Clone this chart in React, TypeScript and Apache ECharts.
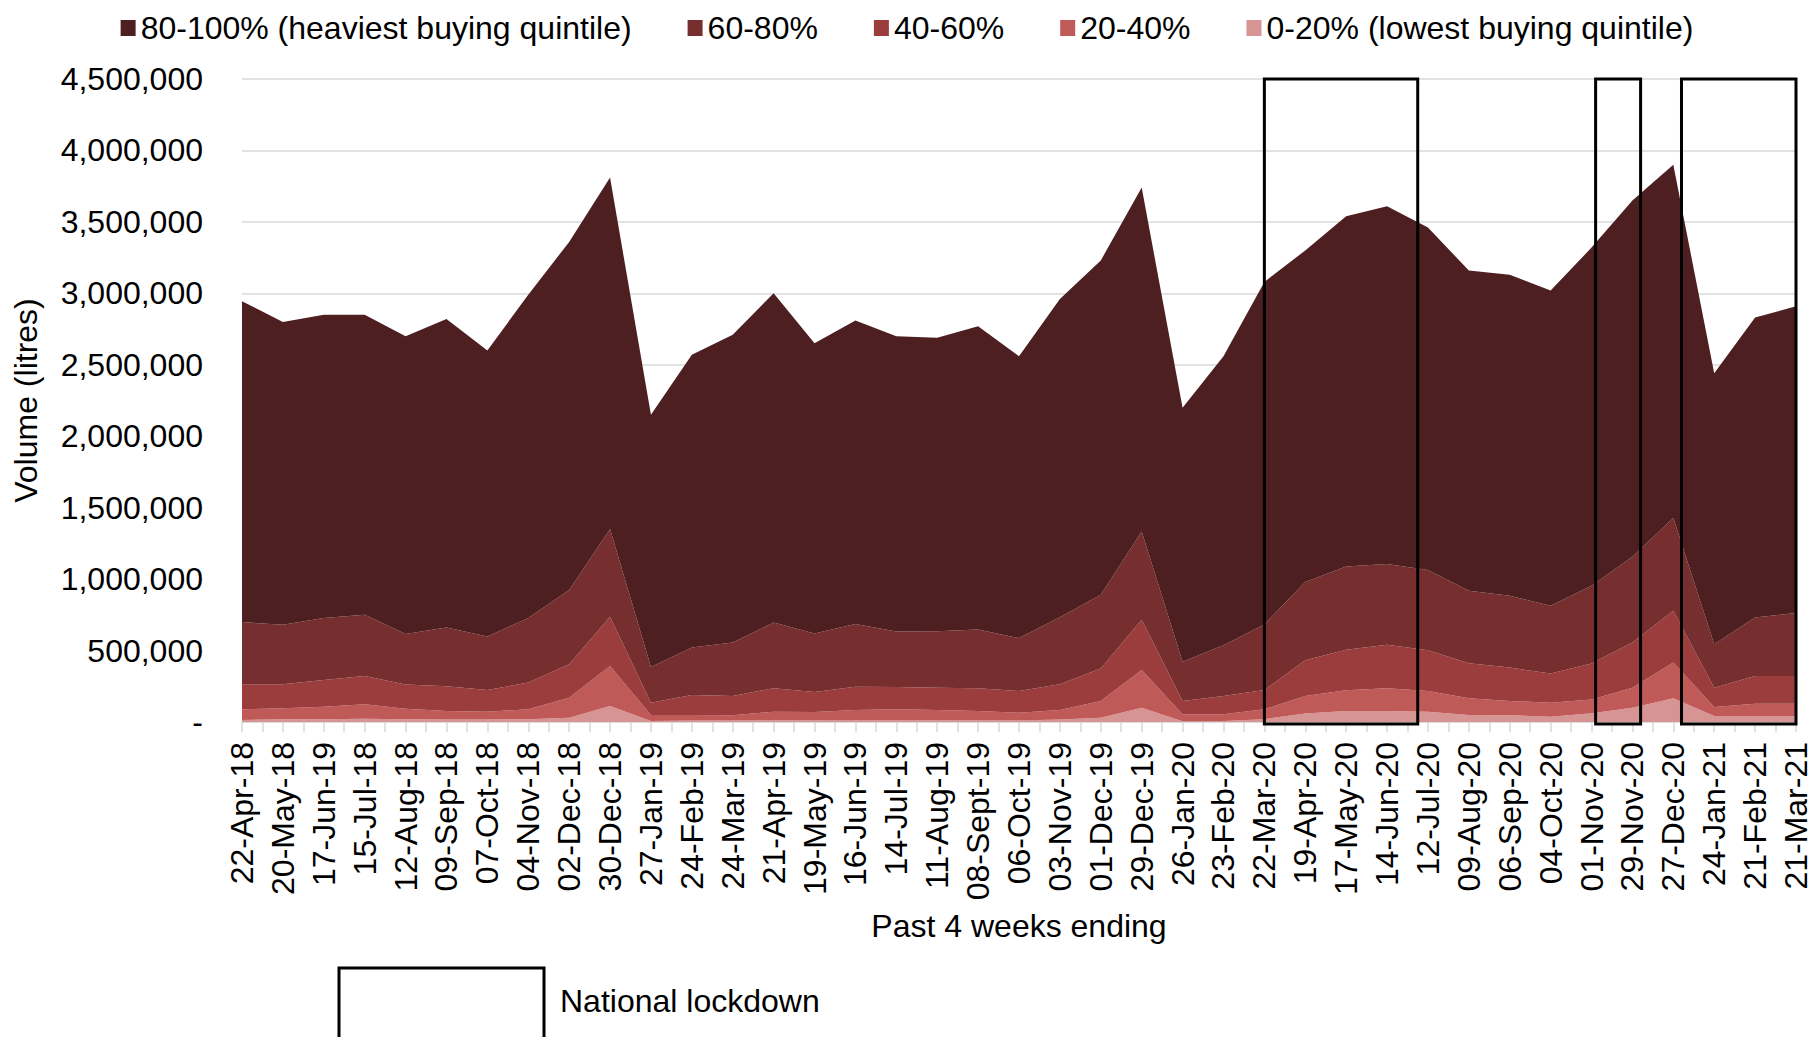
import React, { useEffect, useRef } from "react";
import * as echarts from "echarts";

const categories = [
  "22-Apr-18", "20-May-18", "17-Jun-19", "15-Jul-18", "12-Aug-18", "09-Sep-18", "07-Oct-18",
  "04-Nov-18", "02-Dec-18", "30-Dec-18", "27-Jan-19", "24-Feb-19", "24-Mar-19", "21-Apr-19",
  "19-May-19", "16-Jun-19", "14-Jul-19", "11-Aug-19", "08-Sept-19", "06-Oct-19", "03-Nov-19",
  "01-Dec-19", "29-Dec-19", "26-Jan-20", "23-Feb-20", "22-Mar-20", "19-Apr-20", "17-May-20",
  "14-Jun-20", "12-Jul-20", "09-Aug-20", "06-Sep-20", "04-Oct-20", "01-Nov-20", "29-Nov-20",
  "27-Dec-20", "24-Jan-21", "21-Feb-21", "21-Mar-21",
];

const q80to100 = [
  2246000, 2120000, 2123000, 2100000, 2085000, 2159000, 2002000, 2263000, 2437000, 2460000,
  1765000, 2049000, 2154000, 2304000, 2031000, 2125000, 2067000, 2055000, 2122000, 1973000,
  2227000, 2340000, 2406000, 1778000, 2023000, 2397000, 2320000, 2451000, 2505000, 2397000,
  2242000, 2247000, 2207000, 2367000, 2494000, 2473000, 1896000, 2099000, 2148000,
];
const q60to80 = [
  435000, 416000, 433000, 428000, 353000, 411000, 374000, 451000, 519000, 614000,
  250000, 332000, 374000, 460000, 409000, 438000, 388000, 395000, 412000, 370000,
  469000, 516000, 619000, 275000, 355000, 459000, 547000, 584000, 565000, 561000,
  507000, 502000, 474000, 544000, 600000, 649000, 304000, 409000, 440000,
];
const q40to60 = [
  175000, 168000, 187000, 198000, 169000, 173000, 152000, 187000, 234000, 344000,
  86000, 140000, 135000, 164000, 140000, 163000, 156000, 156000, 159000, 152000,
  180000, 227000, 351000, 93000, 128000, 135000, 251000, 283000, 304000, 285000,
  245000, 234000, 204000, 251000, 316000, 362000, 135000, 194000, 194000,
];
const q20to40 = [
  75000, 76000, 87000, 102000, 73000, 59000, 55000, 69000, 140000, 280000,
  42000, 39000, 37000, 60000, 58000, 70000, 75000, 71000, 65000, 55000,
  66000, 117000, 264000, 49000, 47000, 69000, 122000, 145000, 159000, 145000,
  117000, 100000, 98000, 97000, 140000, 250000, 63000, 86000, 86000,
];
const q0to20 = [
  14000, 20000, 20000, 22000, 20000, 18000, 17000, 20000, 30000, 112000,
  7000, 10000, 10000, 12000, 12000, 14000, 14000, 13000, 12000, 10000,
  18000, 30000, 100000, 5000, 7000, 20000, 60000, 77000, 77000, 72000,
  49000, 47000, 37000, 61000, 100000, 166000, 42000, 42000, 42000,
];

// lockdown periods, in category-index units along the x axis: [start, end]
const lockdownPeriods = [
  [25, 28.75],
  [33.1, 34.2],
  [35.2, 38],
];
const lockdownTop = 4500000;

const seriesNames = [
  "0-20% (lowest buying quintile)",
  "20-40%",
  "40-60%",
  "60-80%",
  "80-100% (heaviest buying quintile)",
];
const seriesColors = ["#D69493", "#C05A59", "#9B3D3C", "#772E2E", "#4E1F20"];
const seriesData = [q0to20, q20to40, q40to60, q60to80, q80to100];

const FONT = "'Liberation Sans', Arial, sans-serif";
const FS = 32;

export default function App() {
  const ref = useRef<HTMLDivElement>(null);
  useEffect(() => {
    document.body.style.margin = "0";
    const chart = echarts.init(ref.current!, null, { renderer: "svg" });
    const areaSeries = seriesNames.map((name, i) => ({
      name,
      type: "line",
      stack: "total",
      data: seriesData[i],
      xAxisIndex: 0,
      yAxisIndex: 0,
      symbol: "none",
      lineStyle: { width: 0, color: seriesColors[i] },
      itemStyle: { color: seriesColors[i] },
      areaStyle: { color: seriesColors[i], opacity: 1 },
      z: 2,
    }));
    chart.setOption({
      animation: false,
      textStyle: { fontFamily: FONT, color: "#000" },
      legend: {
        top: 7,
        left: "center",
        itemWidth: 15,
        itemHeight: 16,
        itemGap: 56,
        icon: "rect",
        data: [...seriesNames].reverse(),
        textStyle: { fontFamily: FONT, fontSize: FS, color: "#000" },
      },
      grid: { left: 242, right: 18, top: 79, bottom: 315, containLabel: false },
      xAxis: [
        {
          type: "category",
          data: categories,
          boundaryGap: false,
          axisLine: { show: true, lineStyle: { color: "#d9d9d9", width: 1.5 } },
          axisTick: { show: false },
          axisLabel: {
            rotate: 90,
            margin: 20,
            interval: 0,
            fontSize: FS,
            lineHeight: 30,
            fontFamily: FONT,
            color: "#000",
          },
          name: "Past 4 weeks ending",
          nameLocation: "middle",
          nameGap: 188,
          nameTextStyle: { fontSize: FS, fontFamily: FONT, color: "#000" },
        },
        {
          type: "value",
          min: 0,
          max: 38,
          interval: 0.5,
          position: "bottom",
          axisLine: { show: false },
          axisTick: { show: true, length: 10, lineStyle: { color: "#d9d9d9", width: 1.5 } },
          axisLabel: { show: false },
          splitLine: { show: false },
        },
      ],
      yAxis: {
        type: "value",
        min: 0,
        max: 4500000,
        interval: 500000,
        axisLine: { show: false },
        axisTick: { show: false },
        splitLine: { lineStyle: { color: "#d9d9d9", width: 1.5 } },
        axisLabel: {
          margin: 39,
          fontSize: FS,
          fontFamily: FONT,
          color: "#000",
          formatter: (v: number) => (v === 0 ? "-" : v.toLocaleString("en-GB")),
        },
        name: "Volume (litres)",
        nameLocation: "middle",
        nameGap: 200,
        nameTextStyle: { fontSize: FS, fontFamily: FONT, color: "#000" },
      },
      series: [
        ...areaSeries,
        {
          name: "lockdown",
          type: "custom",
          xAxisIndex: 1,
          yAxisIndex: 0,
          silent: true,
          z: 10,
          data: lockdownPeriods,
          encode: { x: [0, 1] },
          renderItem: (params: any, api: any) => {
            const p1 = api.coord([api.value(0), lockdownTop]);
            const p2 = api.coord([api.value(1), 0]);
            return {
              type: "rect",
              shape: { x: p1[0], y: p1[1], width: p2[0] - p1[0], height: p2[1] - p1[1] + 2 },
              style: { fill: "none", stroke: "#000", lineWidth: 3 },
            };
          },
        },
      ],
      graphic: [
        {
          type: "rect",
          shape: { x: 339, y: 968, width: 205, height: 120 },
          style: { fill: "none", stroke: "#000", lineWidth: 3 },
        },
        {
          type: "text",
          x: 560,
          y: 1001,
          style: {
            text: "National lockdown",
            fontSize: FS,
            fontFamily: FONT,
            fill: "#000",
            verticalAlign: "middle",
          },
        },
      ],
    });
    return () => chart.dispose();
  }, []);
  return <div ref={ref} style={{ width: 1814, height: 1037 }} />;
}
